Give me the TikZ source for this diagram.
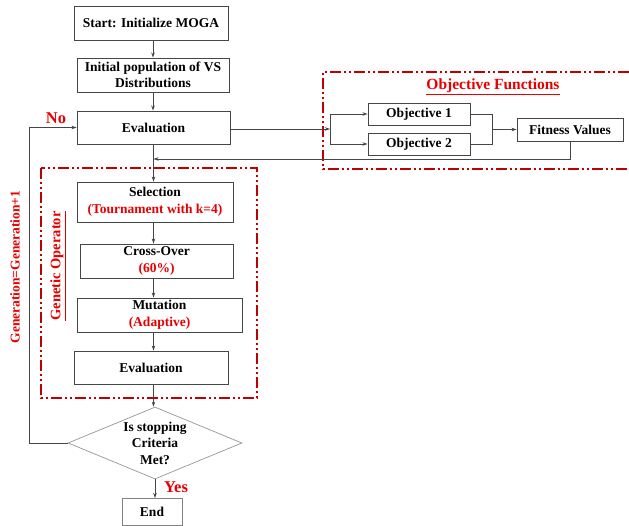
\documentclass[tikz,border=0pt]{standalone}
\usepackage{fontspec}
\setmainfont{Liberation Serif}
\usetikzlibrary{arrows.meta,shapes.geometric}
\definecolor{framered}{RGB}{192,0,0}
\definecolor{txtred}{RGB}{232,0,0}
\definecolor{linegray}{RGB}{70,70,70}
\tikzset{
  box/.style={draw=linegray, line width=0.9pt, fill=white, align=center, inner sep=1pt,
    font=\fontsize{13.5}{16.5}\selectfont\bfseries},
  arr/.style={draw=linegray, line width=0.8pt, -{Stealth[length=5pt,width=3.5pt]}},
  ln/.style={draw=linegray, line width=0.8pt},
  redframe/.style={draw=framered, line width=2.4pt,
    dash pattern=on 11pt off 3pt on 2pt off 3pt on 2pt off 3pt},
  redlbl/.style={text=txtred, font=\fontsize{13.5}{16.5}\selectfont\bfseries, inner sep=0pt}
}
\begin{document}
\begin{tikzpicture}[x=1pt,y=-1pt]
\useasboundingbox (0,0) rectangle (629,526);
% frames
\draw[redframe] (629,72) -- (323,72) -- (323,169) -- (629,169);
\draw[redframe] (41,168) rectangle (257,398);
% main nodes
\node[box, minimum width=154pt, minimum height=34pt] (start) at (151,23) {Start: Initialize MOGA};
\node[box, minimum width=152pt, minimum height=34pt] (init) at (153,75) {Initial population of VS\\Distributions};
\node[box, minimum width=153pt, minimum height=33pt] (eval1) at (153.5,127.5) {Evaluation};
\node[box, minimum width=156pt, minimum height=40pt] (sel) at (155,202) {Selection\\\textcolor{txtred}{(Tournament with k=4)}};
\node[box, minimum width=153pt, minimum height=34pt] (cross) at (156.5,261) {Cross-Over\\\textcolor{txtred}{(60\%)}};
\node[box, minimum width=165pt, minimum height=34pt] (mut) at (159.5,315) {Mutation\\\textcolor{txtred}{(Adaptive)}};
\node[box, minimum width=154pt, minimum height=33pt] (eval2) at (151,367.5) {Evaluation};
\node[box, draw={rgb,255:red,150;green,150;blue,150}, line width=0.7pt, diamond, aspect=2.42,
  minimum width=174pt, minimum height=72pt, inner sep=0pt] (dia) at (155,443) {Is stopping\\Criteria\\Met?};
\node[box, draw={rgb,255:red,130;green,130;blue,130}, minimum width=60pt, minimum height=27pt] (end) at (152,512) {End};
% objective nodes
\node[box, minimum width=102pt, minimum height=22pt] (obj1) at (419,114) {Objective 1};
\node[box, minimum width=102pt, minimum height=22pt] (obj2) at (419,144) {Objective 2};
\node[box, minimum width=106pt, minimum height=23pt] (fit) at (570,129.5) {Fitness Values};
% labels
\node[redlbl, font=\fontsize{15.5}{18}\selectfont\bfseries] (oftitle) at (493,87) {\underline{Objective Functions}};
\node[redlbl, font=\fontsize{14.5}{17}\selectfont\bfseries, rotate=90] (golbl) at (58,266) {\underline{Genetic Operator}};
\node[redlbl, rotate=90] (genlbl) at (15,267) {Generation=Generation+1};
\node[redlbl, font=\fontsize{16.5}{19}\selectfont\bfseries] (nolbl) at (56,118) {No};
\node[redlbl, font=\fontsize{16.5}{19}\selectfont\bfseries] (yeslbl) at (176,487) {Yes};
% coordinates
\coordinate (fb) at (153.5,159);
\coordinate (br) at (330,129);
\coordinate (mg) at (492,129.5);
\coordinate (lp) at (29,443);
% vertical flow
\draw[arr] (start.south -| init.north) -- (init.north);
\draw[arr] (init.south) -- (init.south |- eval1.north);
\draw[arr] (eval1.south) -- (eval1.south |- sel.north);
\draw[arr] (sel.south -| eval1.south) -- (eval1.south |- cross.north);
\draw[arr] (cross.south -| eval1.south) -- (eval1.south |- mut.north);
\draw[arr] (mut.south -| eval1.south) -- (eval1.south |- eval2.north);
\draw[arr] (eval2.south -| eval1.south) -- (eval1.south |- dia.north);
\draw[arr] (dia.south) -- (dia.south |- end.north);
% feedback from fitness
\draw[arr] (fit.south) |- (fb);
% to objectives
\draw[arr] (eval1.east |- br) -- (br);
\draw[ln] (br |- obj1) -- (br |- obj2);
\draw[arr] (br |- obj1) -- (obj1.west);
\draw[arr] (br |- obj2) -- (obj2.west);
\draw[ln] (obj1.east) -| (mg);
\draw[ln] (obj2.east) -| (mg);
\draw[arr] (mg) -- (fit.west |- mg);
% loop
\draw[arr] (dia.west) -- (lp) |- (eval1.west);
\end{tikzpicture}
\end{document}
